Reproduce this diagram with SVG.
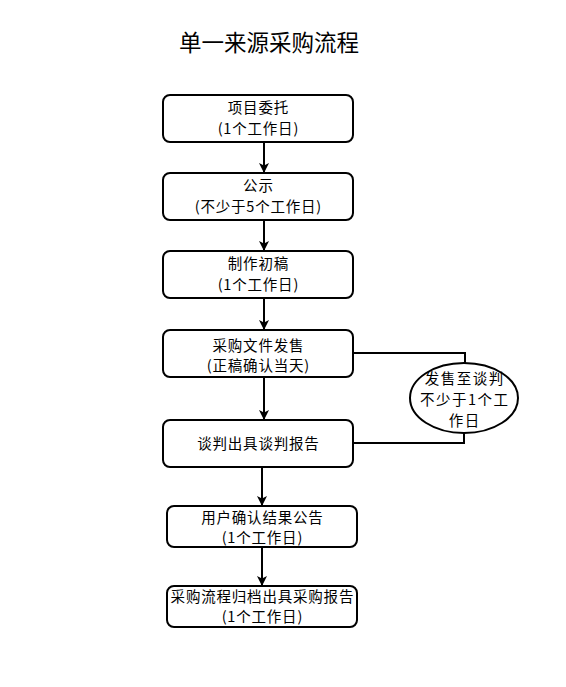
<svg xmlns="http://www.w3.org/2000/svg" width="566" height="687" viewBox="0 0 566 687">
<style>
.box{fill:#fff;stroke:#000;stroke-width:2}
.t{font-family:"Noto Sans CJK SC","Noto Sans",sans-serif;font-size:14.5px;letter-spacing:0.8px;fill:#000;text-anchor:middle}
.e{font-family:"Noto Sans CJK SC","Noto Sans",sans-serif;font-size:14.5px;letter-spacing:1.5px;fill:#000;text-anchor:middle}
.title{font-family:"Noto Sans CJK SC","Noto Sans",sans-serif;font-size:22.5px;fill:#000;text-anchor:middle}
.c{fill:none;stroke:#000;stroke-width:2}
</style>
<defs>
<marker id="ah" viewBox="0 0 10 10" refX="10" refY="5" markerWidth="10" markerHeight="10" markerUnits="userSpaceOnUse" orient="auto">
<path d="M0,0 L10,5 L0,10 L2.5,5 Z" fill="#000"/>
</marker>
</defs>
<rect width="566" height="687" fill="#fff"/>
<text class="title" x="269" y="51">单一来源采购流程</text>
<g id="connectors">
<path class="c" d="M264,142 V173" marker-end="url(#ah)"/>
<path class="c" d="M264,220 V251" marker-end="url(#ah)"/>
<path class="c" d="M264,298 V330" marker-end="url(#ah)"/>
<path class="c" d="M264,377 V420" marker-end="url(#ah)"/>
<path class="c" d="M262,467 V506" marker-end="url(#ah)"/>
<path class="c" d="M262,547 V586" marker-end="url(#ah)"/>
<path class="c" d="M353,353 H465 V363"/>
<path class="c" d="M464,433 V443 H353"/>
</g>
<g id="n1"><rect class="box" x="163" y="95" width="190" height="47" rx="7"/>
<text class="t" x="258.4" y="113">项目委托</text><text class="t" x="258.4" y="134">(1个工作日)</text></g>
<g id="n2"><rect class="box" x="163" y="173" width="190" height="47" rx="7"/>
<text class="t" x="258.4" y="191">公示</text><text class="t" x="258.4" y="212">(不少于5个工作日)</text></g>
<g id="n3"><rect class="box" x="163" y="251" width="190" height="47" rx="7"/>
<text class="t" x="258.4" y="269">制作初稿</text><text class="t" x="258.4" y="290">(1个工作日)</text></g>
<g id="n4"><rect class="box" x="163" y="330" width="190" height="47" rx="7"/>
<text class="t" x="258.4" y="351">采购文件发售</text><text class="t" x="258.4" y="371">(正稿确认当天)</text></g>
<g id="n5"><rect class="box" x="163" y="420" width="190" height="47" rx="7"/>
<text class="t" x="258.4" y="449">谈判出具谈判报告</text></g>
<g id="n6"><rect class="box" x="167" y="506" width="190" height="41" rx="7"/>
<text class="t" x="262.4" y="523">用户确认结果公告</text><text class="t" x="262.4" y="543">(1个工作日)</text></g>
<g id="n7"><rect class="box" x="167" y="586" width="190" height="41" rx="7"/>
<text class="t" x="262.4" y="602">采购流程归档出具采购报告</text><text class="t" x="262.4" y="622">(1个工作日)</text></g>
<g id="n8"><ellipse class="box" cx="464" cy="398" rx="54" ry="35"/>
<text class="e" x="464.7" y="384">发售至谈判</text><text class="e" x="464.7" y="405">不少于1个工</text><text class="e" x="464.7" y="426">作日</text></g>
</svg>
